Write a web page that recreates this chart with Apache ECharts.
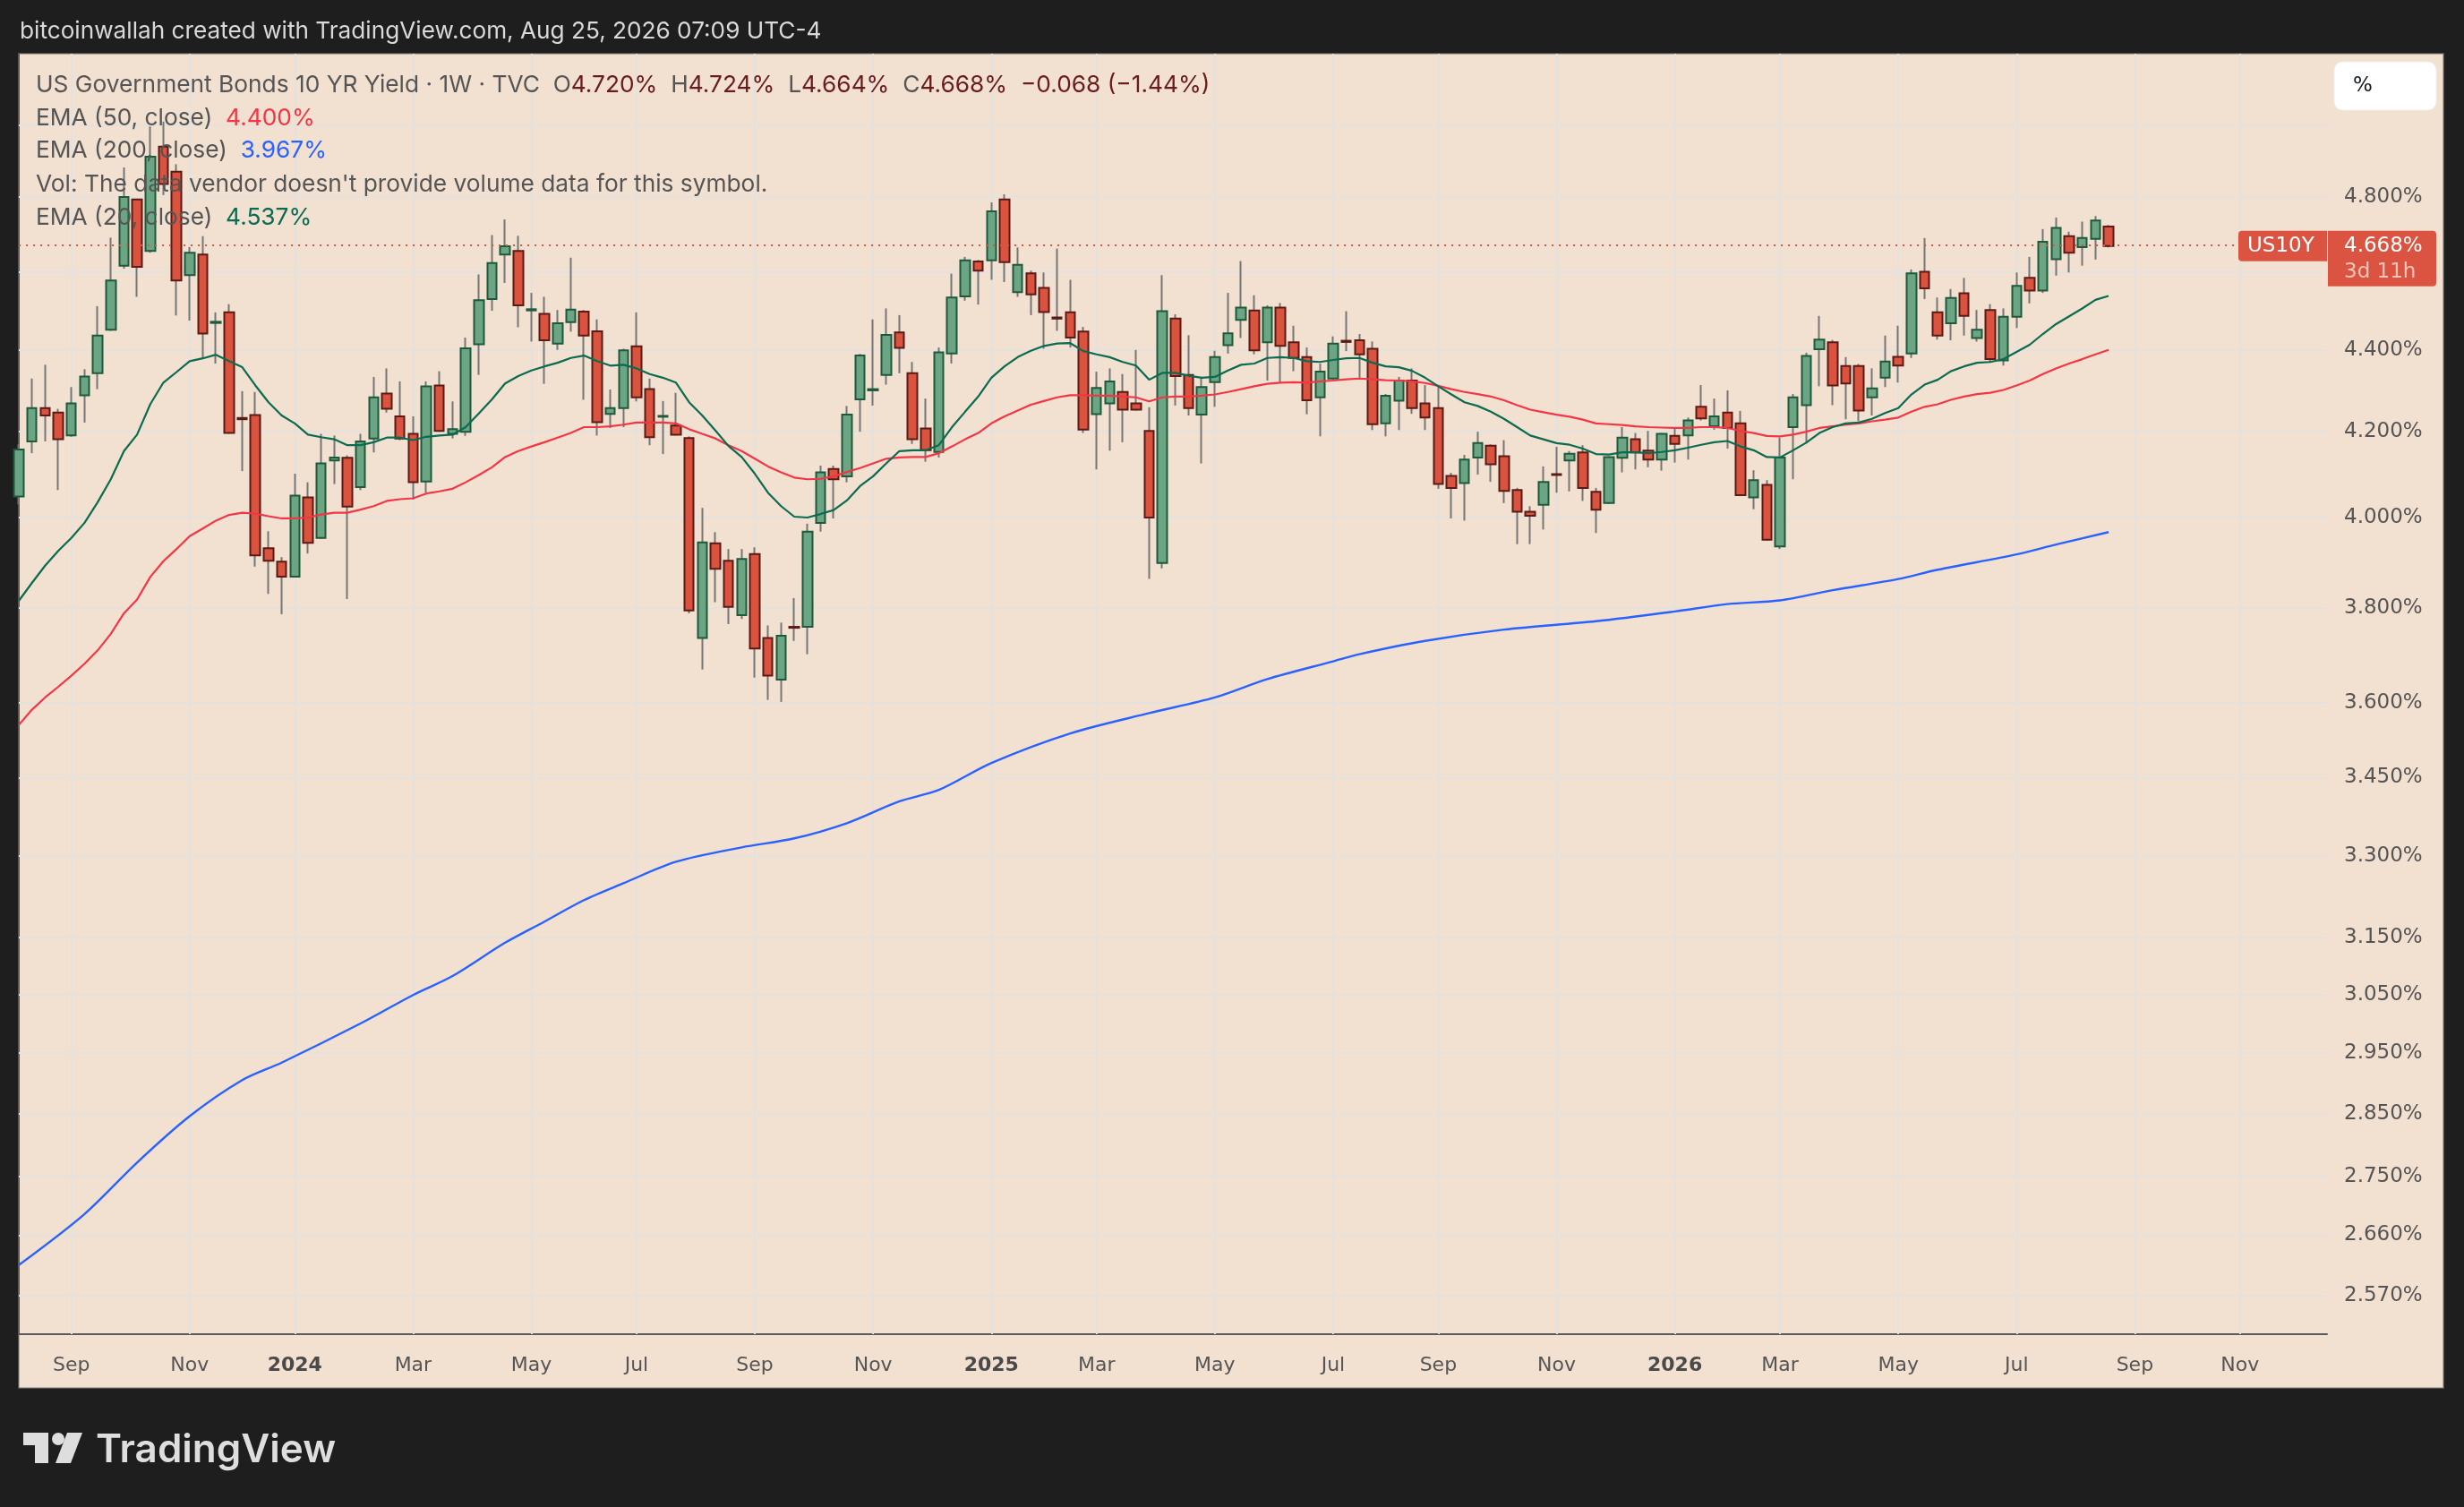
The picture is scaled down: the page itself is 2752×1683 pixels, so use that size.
<!DOCTYPE html>
<html>
<head>
<meta charset="utf-8">
<title>US10Y weekly</title>
<script src="https://cdn.jsdelivr.net/npm/echarts@6.0.0/dist/echarts.min.js"></script>
<style>
html,body{margin:0;padding:0;background:#1e1e1e;overflow:hidden;}
#chart{width:2752px;height:1683px;}
</style>
</head>
<body>
<div id="chart"></div>
<script>
// ------------------------------------------------------------------ data
const firstWeek = '2023-08-07';           // Monday of the first weekly bar
const symbolName = 'US10Y';
const timeLeft = '3d 11h';

const opens = [
4.048,4.177,4.257,4.246,4.191,4.288,4.342,4.451,4.616,4.793,
4.655,4.939,4.869,4.591,4.645,4.468,4.495,4.233,4.240,3.931,
3.901,3.868,4.046,3.954,4.132,4.138,4.070,4.184,4.292,4.237,
4.195,4.083,4.312,4.195,4.200,4.414,4.529,4.645,4.655,4.500,
4.491,4.416,4.470,4.497,4.447,4.243,4.257,4.409,4.303,4.236,
4.215,4.185,3.735,3.942,3.903,3.784,3.918,3.735,3.648,3.759,
3.759,3.988,4.112,4.095,4.278,4.300,4.338,4.444,4.342,4.208,
4.152,4.391,4.536,4.627,4.630,4.793,4.547,4.596,4.558,4.482,
4.495,4.446,4.242,4.268,4.296,4.268,4.202,3.898,4.479,4.338,
4.241,4.320,4.412,4.476,4.500,4.419,4.507,4.419,4.382,4.283,
4.329,4.423,4.424,4.403,4.220,4.275,4.324,4.268,4.257,4.096,
4.079,4.139,4.167,4.142,4.063,4.013,4.029,4.100,4.132,4.151,
4.059,4.033,4.138,4.182,4.155,4.134,4.190,4.191,4.260,4.213,
4.246,4.220,4.046,4.075,3.935,4.211,4.264,4.402,4.419,4.360,
4.360,4.283,4.331,4.383,4.391,4.600,4.495,4.467,4.544,4.430,
4.501,4.374,4.484,4.584,4.551,4.633,4.694,4.665,4.687,4.720];

const highs = [
4.170,4.329,4.363,4.255,4.308,4.352,4.511,4.690,4.881,4.795,
4.996,5.010,4.890,4.665,4.694,4.495,4.516,4.298,4.296,3.969,
3.911,4.101,4.081,4.195,4.191,4.144,4.195,4.333,4.354,4.322,
4.237,4.322,4.347,4.273,4.431,4.593,4.697,4.739,4.695,4.545,
4.535,4.501,4.637,4.501,4.477,4.302,4.403,4.495,4.329,4.274,
4.294,4.189,4.022,3.967,3.929,3.929,3.933,3.762,3.768,3.821,
3.986,4.120,4.120,4.262,4.390,4.477,4.505,4.488,4.370,4.280,
4.406,4.595,4.639,4.631,4.785,4.807,4.664,4.603,4.598,4.661,
4.579,4.458,4.346,4.354,4.340,4.400,4.259,4.591,4.490,4.437,
4.333,4.398,4.545,4.628,4.539,4.513,4.519,4.461,4.406,4.366,
4.434,4.498,4.440,4.421,4.291,4.333,4.354,4.313,4.312,4.103,
4.145,4.200,4.170,4.180,4.068,4.026,4.118,4.164,4.154,4.168,
4.068,4.142,4.211,4.197,4.202,4.197,4.211,4.234,4.313,4.280,
4.300,4.250,4.109,4.086,4.186,4.291,4.393,4.486,4.425,4.382,
4.365,4.354,4.436,4.461,4.606,4.689,4.533,4.555,4.584,4.501,
4.516,4.505,4.598,4.639,4.713,4.744,4.706,4.733,4.748,4.724];

const lows = [
4.030,4.149,4.177,4.063,4.188,4.222,4.303,4.448,4.608,4.535,
4.650,4.805,4.487,4.474,4.380,4.366,4.195,4.107,3.890,3.830,
3.786,3.866,3.919,3.952,4.077,3.819,4.063,4.151,4.246,4.180,
4.041,4.057,4.200,4.184,4.190,4.338,4.499,4.571,4.457,4.421,
4.316,4.400,4.446,4.277,4.191,4.209,4.211,4.273,4.168,4.147,
4.191,3.788,3.669,3.812,3.765,3.776,3.652,3.606,3.602,3.729,
3.701,3.968,3.998,4.081,4.200,4.263,4.314,4.342,4.171,4.129,
4.139,4.366,4.525,4.515,4.579,4.573,4.535,4.488,4.403,4.448,
4.406,4.197,4.111,4.155,4.175,4.251,3.863,3.886,4.263,4.239,
4.125,4.260,4.391,4.430,4.389,4.324,4.319,4.347,4.242,4.189,
4.327,4.397,4.331,4.204,4.189,4.204,4.243,4.204,4.066,3.998,
3.993,4.099,4.082,4.033,3.940,3.940,3.973,4.057,4.060,4.038,
3.965,4.031,4.104,4.111,4.116,4.108,4.127,4.134,4.227,4.205,
4.160,4.049,4.019,3.948,3.929,4.088,4.173,4.310,4.264,4.230,
4.225,4.239,4.308,4.319,4.380,4.529,4.426,4.424,4.436,4.421,
4.368,4.361,4.455,4.518,4.545,4.590,4.598,4.616,4.632,4.664];

const closes = [
4.158,4.257,4.239,4.182,4.268,4.334,4.436,4.577,4.800,4.613,
4.911,4.835,4.577,4.650,4.441,4.471,4.197,4.230,3.915,3.903,
3.868,4.050,3.943,4.125,4.139,4.025,4.177,4.283,4.255,4.184,
4.081,4.310,4.202,4.206,4.404,4.526,4.623,4.667,4.513,4.503,
4.424,4.467,4.502,4.436,4.223,4.257,4.399,4.283,4.187,4.238,
4.193,3.794,3.944,3.885,3.802,3.907,3.713,3.656,3.740,3.757,
3.968,4.104,4.088,4.241,4.386,4.303,4.438,4.405,4.182,4.156,
4.394,4.533,4.630,4.603,4.761,4.625,4.618,4.541,4.496,4.479,
4.431,4.205,4.306,4.322,4.253,4.253,4.000,4.498,4.335,4.257,
4.308,4.382,4.442,4.507,4.399,4.507,4.410,4.380,4.276,4.346,
4.416,4.420,4.389,4.218,4.287,4.324,4.257,4.234,4.077,4.068,
4.134,4.173,4.123,4.061,4.013,4.004,4.082,4.098,4.148,4.068,
4.018,4.140,4.186,4.151,4.134,4.195,4.171,4.227,4.232,4.237,
4.209,4.051,4.086,3.950,4.139,4.283,4.385,4.426,4.312,4.317,
4.251,4.305,4.371,4.361,4.596,4.557,4.436,4.532,4.486,4.451,
4.377,4.484,4.563,4.551,4.679,4.716,4.650,4.689,4.736,4.668];

const ema20 = [
3.815,3.854,3.892,3.925,3.954,3.988,4.035,4.088,4.154,4.193,
4.266,4.319,4.345,4.372,4.379,4.388,4.372,4.357,4.312,4.271,
4.239,4.220,4.193,4.187,4.182,4.168,4.168,4.175,4.186,4.186,
4.180,4.188,4.191,4.193,4.211,4.244,4.278,4.317,4.335,4.349,
4.359,4.368,4.380,4.386,4.372,4.361,4.363,4.354,4.340,4.331,
4.319,4.271,4.239,4.203,4.166,4.140,4.101,4.057,4.026,4.002,
4.000,4.008,4.017,4.039,4.072,4.095,4.125,4.154,4.156,4.156,
4.168,4.211,4.248,4.285,4.331,4.359,4.382,4.398,4.410,4.416,
4.417,4.397,4.389,4.382,4.370,4.361,4.326,4.343,4.343,4.336,
4.331,4.333,4.349,4.363,4.366,4.380,4.382,4.380,4.372,4.370,
4.375,4.379,4.380,4.368,4.359,4.357,4.348,4.331,4.310,4.290,
4.271,4.262,4.248,4.231,4.211,4.191,4.182,4.173,4.169,4.160,
4.147,4.146,4.151,4.151,4.149,4.152,4.156,4.162,4.169,4.175,
4.178,4.165,4.156,4.140,4.139,4.156,4.174,4.197,4.211,4.220,
4.222,4.231,4.245,4.257,4.290,4.314,4.326,4.347,4.359,4.368,
4.370,4.377,4.395,4.413,4.440,4.465,4.485,4.505,4.527,4.537];

const ema50 = [
3.555,3.586,3.611,3.633,3.656,3.681,3.709,3.744,3.788,3.818,
3.867,3.902,3.929,3.958,3.975,3.993,4.006,4.011,4.009,4.003,
3.998,3.998,4.000,4.007,4.011,4.011,4.018,4.026,4.038,4.042,
4.044,4.055,4.060,4.066,4.081,4.098,4.116,4.140,4.154,4.165,
4.175,4.186,4.197,4.211,4.211,4.213,4.217,4.222,4.222,4.222,
4.220,4.206,4.195,4.184,4.168,4.154,4.136,4.118,4.104,4.092,
4.088,4.089,4.095,4.105,4.114,4.125,4.136,4.139,4.140,4.140,
4.149,4.165,4.182,4.197,4.220,4.237,4.251,4.265,4.274,4.283,
4.288,4.288,4.287,4.287,4.285,4.283,4.273,4.283,4.285,4.285,
4.287,4.290,4.296,4.303,4.310,4.316,4.319,4.320,4.319,4.322,
4.324,4.327,4.329,4.327,4.325,4.324,4.322,4.318,4.311,4.303,
4.296,4.291,4.285,4.276,4.264,4.253,4.247,4.241,4.236,4.229,
4.220,4.218,4.216,4.213,4.211,4.210,4.209,4.209,4.211,4.211,
4.209,4.202,4.197,4.190,4.189,4.193,4.200,4.209,4.213,4.217,
4.220,4.225,4.229,4.234,4.248,4.260,4.266,4.277,4.285,4.291,
4.294,4.301,4.312,4.324,4.340,4.354,4.366,4.377,4.389,4.400];

// EMA 200 read at selected weekly bars (bar index, value)
const ema200Idx = [0,5,9,13,17,20,26,30,33,37,40,43,46,50,55,59,63,67,70,74,80,86,91,95,100,102,107,113,120,126,130,134,138,143,146,152,155,159];
const ema200Val = [2.615,2.692,2.772,2.846,2.905,2.934,3.000,3.049,3.082,3.141,3.179,3.218,3.249,3.289,3.316,3.333,3.362,3.404,3.426,3.479,3.538,3.579,3.611,3.649,3.686,3.701,3.729,3.753,3.771,3.792,3.808,3.816,3.838,3.8625,3.883,3.917,3.939,3.967];

const xTickDates = ['2023-09-04','2023-11-06','2024-01-01','2024-03-04','2024-05-06','2024-07-01','2024-09-02','2024-11-04','2025-01-06','2025-03-03','2025-05-05','2025-07-07','2025-09-01','2025-11-03','2026-01-05','2026-03-02','2026-05-04','2026-07-06','2026-09-07','2026-11-02'];
const xTickLabels = ['Sep','Nov','2024','Mar','May','Jul','Sep','Nov','2025','Mar','May','Jul','Sep','Nov','2026','Mar','May','Jul','Sep','Nov'];
const yGridValues  = [5.0,4.8,4.6,4.4,4.2,4.0,3.8,3.6,3.45,3.3,3.15,3.05,2.95,2.85,2.75,2.66,2.57];
const yLabelValues = [4.8,4.4,4.2,4.0,3.8,3.6,3.45,3.3,3.15,3.05,2.95,2.85,2.75,2.66,2.57];

// ------------------------------------------------------------------ view settings
const Y_MIN = 2.5142, Y_MAX = 5.2071;     // visible price range (log scale)
const X_MAX = 175.62;                      // visible bar range (incl. empty future weeks)
const GRID = {left: 21, right: 153, top: 60, bottom: 193};
const W = 2752, H = 1683;

const FONT_UI = 'Inter, "Noto Sans", sans-serif';
const FONT_AX = '"DejaVu Sans", "Noto Sans", sans-serif';

const COL = {
  upFill: '#6ba583', upBorder: '#1d5a3c',
  dnFill: '#d9533f', dnBorder: '#5b1a15',
  wick: '#767676',
  ema20: '#0b6b50', ema50: '#f23645', ema200: '#2962ff',
  grid: '#e4e2df', axis: '#5a5a5a', label: '#555555',
  panel: '#f2e0d0', price: '#db5441'
};

// ------------------------------------------------------------------ helpers
const t0 = (function(){ const p = firstWeek.split('-').map(Number); return Date.UTC(p[0], p[1]-1, p[2]); })();
function weekIndex(s){ const p = s.split('-').map(Number); return Math.round((Date.UTC(p[0],p[1]-1,p[2]) - t0) / (7*864e5)); }
const xTickIdx = xTickDates.map(weekIndex);
const fmt = v => v.toFixed(3) + '%';
const minus = s => s.replace('-', '\u2212');

const n = closes.length;
const lastO = opens[n-1], lastH = highs[n-1], lastL = lows[n-1], lastC = closes[n-1];
const chg = lastC - closes[n-2];
const chgPct = chg / closes[n-2] * 100;

const wickData = opens.map((o, i) => [i, o, closes[i], lows[i], highs[i]]);
const bodyData = opens.map((o, i) => [i, o, closes[i], Math.min(o, closes[i]), Math.max(o, closes[i])]);

// grid lines drawn through the axes' own scales
const gridLines = xTickIdx.map(v => ({xAxis: v})).concat(yGridValues.map(v => ({yAxis: v})));

// ------------------------------------------------------------------ chart
const chart = echarts.init(document.getElementById('chart'), null, {renderer: 'canvas', width: W, height: H});

function legendLine(text, centerY){
  return {
    text: text, left: 40, top: centerY - 16, padding: 0,
    textStyle: {
      fontFamily: FONT_UI, fontSize: 26.3, fontWeight: 400, color: '#555555', lineHeight: 32,
      rich: {
        n: {color: '#555555'},
        v: {color: '#6a1c1c'},
        r: {color: COL.ema50},
        b: {color: COL.ema200},
        g: {color: COL.ema20}
      }
    }
  };
}

const line1 = '{n|US Government Bonds 10 YR Yield \u00b7 1W \u00b7 TVC}  {n|O}{v|' + fmt(lastO) + '}  {n|H}{v|' + fmt(lastH) +
  '}  {n|L}{v|' + fmt(lastL) + '}  {n|C}{v|' + fmt(lastC) + '}  {v|' + minus(chg.toFixed(3)) + ' (' + minus(chgPct.toFixed(2)) + '%)}';

const option = {
  backgroundColor: '#1e1e1e',
  animation: false,
  textStyle: {fontFamily: FONT_UI},
  title: [
    {text: 'bitcoinwallah created with TradingView.com, Aug 25, 2026 07:09 UTC-4', left: 22, top: 19, padding: 0,
     textStyle: {color: '#d9d9d9', fontSize: 26.2, fontWeight: 400, fontFamily: FONT_UI, lineHeight: 32}},
    legendLine(line1, 95),
    legendLine('{n|EMA (50, close)}  {r|' + fmt(ema50[n-1]) + '}', 132),
    legendLine('{n|EMA (200, close)}  {b|' + fmt(ema200Val[ema200Val.length-1]) + '}', 168),
    legendLine("{n|Vol: The data vendor doesn't provide volume data for this symbol.}", 206),
    legendLine('{n|EMA (20, close)}  {g|' + fmt(ema20[n-1]) + '}', 243)
  ],
  grid: {left: GRID.left, right: GRID.right, top: GRID.top, bottom: GRID.bottom, containLabel: false},
  xAxis: {
    type: 'value', min: 0, max: X_MAX, position: 'bottom',
    axisLine: {show: true, onZero: false, lineStyle: {color: COL.axis, width: 2}},
    axisTick: {show: false, customValues: xTickIdx},
    splitLine: {show: false},
    axisLabel: {
      customValues: xTickIdx, margin: 24, color: COL.label, fontFamily: FONT_AX, fontSize: 22,
      formatter: function(v){
        const k = xTickIdx.indexOf(Math.round(v));
        if (k < 0) return '';
        const lab = xTickLabels[k];
        return /^\d{4}$/.test(lab) ? '{y|' + lab + '}' : lab;
      },
      rich: {y: {fontWeight: 'bold', color: '#4a4a4a', fontFamily: FONT_AX, fontSize: 22}}
    }
  },
  yAxis: {
    type: 'log', logBase: 10, min: Y_MIN, max: Y_MAX, position: 'right', scale: true,
    axisLine: {show: true, lineStyle: {color: COL.axis, width: 2}},
    axisTick: {show: false, customValues: yGridValues},
    splitLine: {show: false},
    axisLabel: {
      customValues: yLabelValues, margin: 19, color: COL.label, fontFamily: FONT_AX, fontSize: 23,
      align: 'left', formatter: v => fmt(v)
    }
  },
  series: [
    {
      name: 'wicks', type: 'candlestick', data: wickData, encode: {x: 0, y: [1, 2, 3, 4]},
      barWidth: 1, z: 2, silent: true,
      itemStyle: {color: COL.wick, color0: COL.wick, borderColor: COL.wick, borderColor0: COL.wick, borderColorDoji: COL.wick, borderWidth: 2},
      markLine: {
        silent: true, symbol: 'none', animation: false, z: 1,
        label: {show: false},
        lineStyle: {color: COL.grid, type: 'solid', width: 2},
        emphasis: {disabled: true},
        data: gridLines
      }
    },
    {
      name: 'US10Y', type: 'candlestick', data: bodyData, encode: {x: 0, y: [1, 2, 3, 4]},
      barWidth: 11, z: 3, silent: true,
      itemStyle: {color: COL.upFill, color0: COL.dnFill, borderColor: COL.upBorder, borderColor0: COL.dnBorder, borderWidth: 2},
      markLine: {
        silent: true, symbol: 'none', animation: false,
        label: {show: false},
        lineStyle: {color: COL.price, type: [2, 6], width: 2},
        data: [{yAxis: lastC}]
      }
    },
    {name: 'EMA 200', type: 'line', data: ema200Idx.map((x, k) => [x, ema200Val[k]]), symbol: 'none', smooth: 0.3,
     lineStyle: {color: COL.ema200, width: 2.4}, z: 4, silent: true},
    {name: 'EMA 50', type: 'line', data: ema50.map((v, i) => [i, v]), symbol: 'none',
     lineStyle: {color: COL.ema50, width: 2.2}, z: 4, silent: true},
    {name: 'EMA 20', type: 'line', data: ema20.map((v, i) => [i, v]), symbol: 'none',
     lineStyle: {color: COL.ema20, width: 2.2}, z: 4, silent: true}
  ],
  graphic: {elements: [
    {type: 'rect', id: 'panel', z: -10, silent: true,
     shape: {x: 21, y: 60, width: 2708, height: 1490},
     style: {fill: COL.panel, stroke: 'rgba(130,125,120,0.7)', lineWidth: 1.5}}
  ]}
};

chart.setOption(option);

// ---- overlay UI elements placed through the chart's own scales
const yLast = chart.convertToPixel({yAxisIndex: 0}, lastC);
const xAxisRight = chart.convertToPixel({xAxisIndex: 0}, X_MAX);

chart.setOption({graphic: {elements: [
  {type: 'rect', id: 'panel', z: -10, silent: true,
   shape: {x: 21, y: 60, width: 2708, height: 1490},
   style: {fill: COL.panel, stroke: 'rgba(130,125,120,0.7)', lineWidth: 1.5}},
  // "%" button
  {type: 'rect', id: 'pctBtn', z: 50, silent: true,
   shape: {x: 2607, y: 69, width: 114, height: 54, r: 9},
   style: {fill: '#ffffff', stroke: '#eeeeee', lineWidth: 1}},
  {type: 'text', id: 'pctTxt', z: 51, silent: true, x: 2628, y: 96,
   style: {text: '%', fill: '#131722', font: '23px ' + FONT_AX, verticalAlign: 'middle', align: 'left'}},
  // symbol tag left of the price scale
  {type: 'rect', id: 'symTag', z: 50, silent: true,
   shape: {x: xAxisRight - 99, y: yLast - 17, width: 99, height: 34, r: [4, 0, 0, 4]},
   style: {fill: COL.price}},
  {type: 'text', id: 'symTxt', z: 51, silent: true, x: xAxisRight - 89, y: yLast,
   style: {text: symbolName, fill: '#ffffff', font: '23px ' + FONT_AX, verticalAlign: 'middle', align: 'left'}},
  // last price tag on the price scale
  {type: 'rect', id: 'priceTag', z: 50, silent: true,
   shape: {x: xAxisRight + 1, y: yLast - 17, width: 121, height: 62, r: [0, 4, 4, 0]},
   style: {fill: COL.price}},
  {type: 'text', id: 'priceTxt', z: 51, silent: true, x: xAxisRight + 19, y: yLast,
   style: {text: fmt(lastC), fill: '#ffffff', font: '23px ' + FONT_AX, verticalAlign: 'middle', align: 'left'}},
  {type: 'text', id: 'timeTxt', z: 51, silent: true, x: xAxisRight + 19, y: yLast + 29,
   style: {text: timeLeft, fill: '#f7c4ba', font: '23px ' + FONT_AX, verticalAlign: 'middle', align: 'left'}},
  // TradingView footer logo
  {type: 'rect', id: 'logo1', silent: true, shape: {x: 26, y: 1600, width: 28, height: 14}, style: {fill: '#dedede'}},
  {type: 'rect', id: 'logo2', silent: true, shape: {x: 39, y: 1600, width: 15, height: 34}, style: {fill: '#dedede'}},
  {type: 'circle', id: 'logo3', silent: true, shape: {cx: 65, cy: 1607, r: 7}, style: {fill: '#dedede'}},
  {type: 'polygon', id: 'logo4', silent: true, shape: {points: [[75, 1600], [92, 1600], [79, 1634], [62, 1634]]}, style: {fill: '#dedede'}},
  {type: 'text', id: 'logoTxt', silent: true, x: 107, y: 1620,
   style: {text: 'TradingView', fill: '#dedede', font: '600 44px ' + FONT_UI, verticalAlign: 'middle', align: 'left'}}
]}});
</script>
</body>
</html>
